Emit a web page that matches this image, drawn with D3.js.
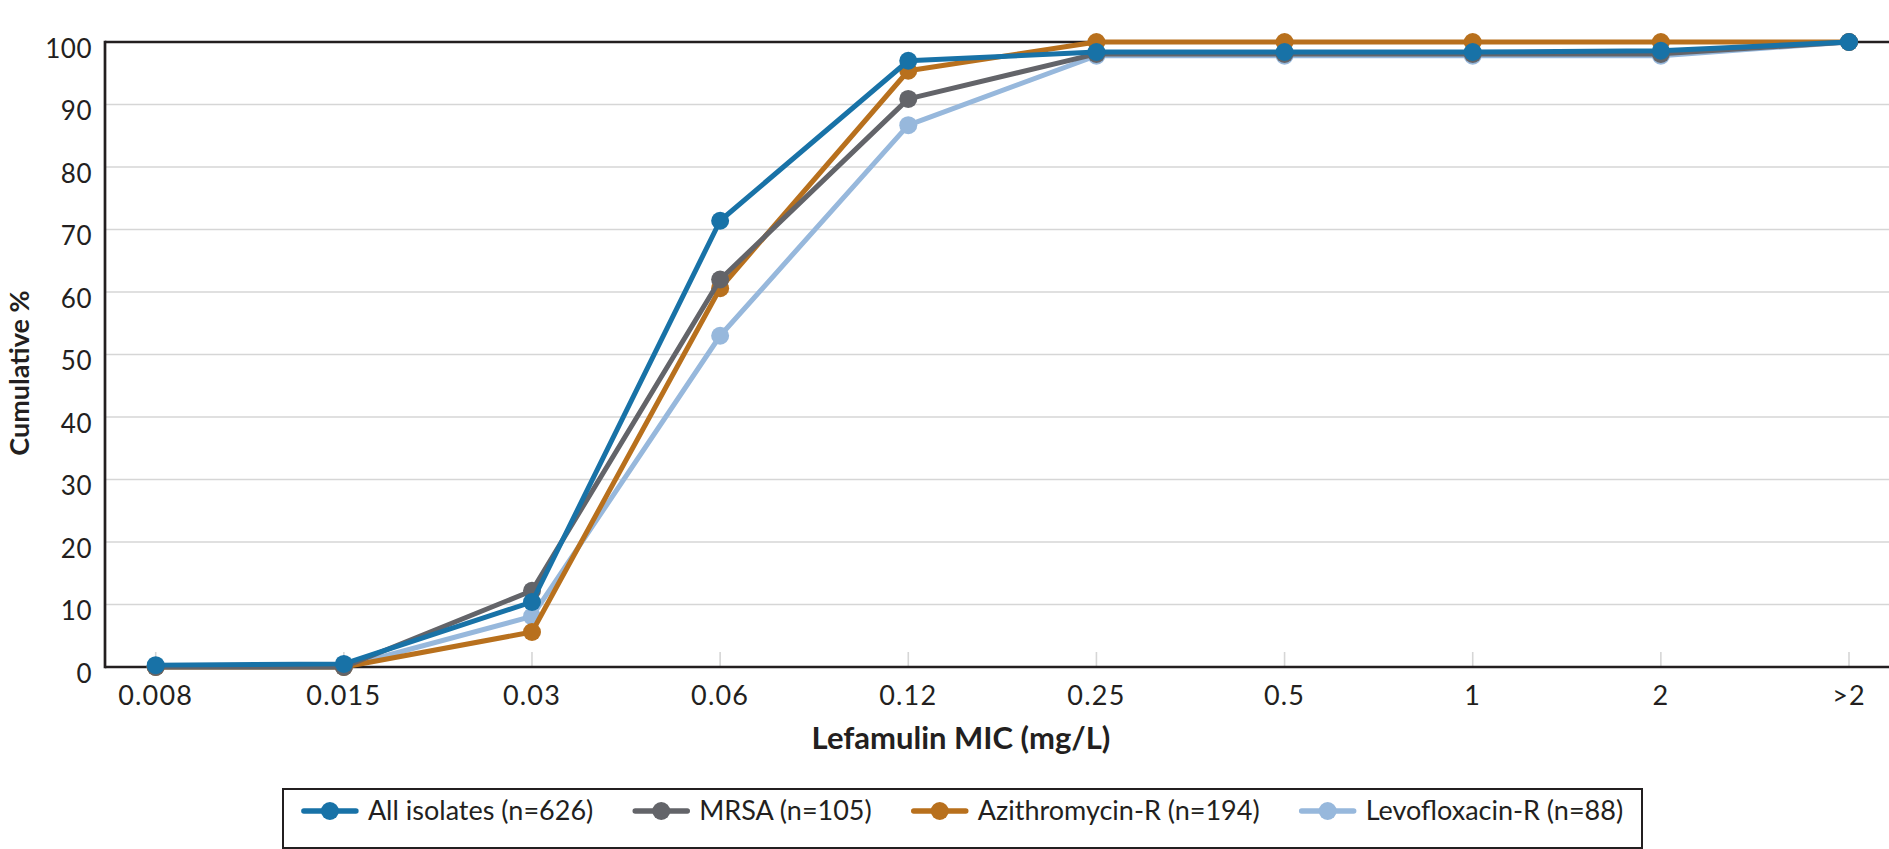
<!DOCTYPE html>
<html>
<head>
<meta charset="utf-8">
<script src="https://cdn.jsdelivr.net/npm/d3@7"></script>
<style>
  body { margin: 0; background: #fff; }
  svg { display: block; font-family: Lato, "Open Sans", sans-serif; }
</style>
</head>
<body>
<div id="chart"></div>
<script>
// Cumulative % of isolates inhibited at each lefamulin MIC
const micLabels = ['0.008', '0.015', '0.03', '0.06', '0.12', '0.25', '0.5', '1', '2', '>2'];
const yTicks = [0, 10, 20, 30, 40, 50, 60, 70, 80, 90, 100];

const allIsolates = [0.3, 0.5, 10.4, 71.4, 97.0, 98.4, 98.4, 98.4, 98.6, 100];
const mrsa = [0.0, 0.0, 12.2, 62.0, 90.9, 98.1, 98.1, 98.1, 98.1, 100];
const azithroR = [0.0, 0.0, 5.6, 60.6, 95.4, 100, 100, 100, 100, 100];
const levoR = [0.0, 0.0, 8.1, 53.0, 86.7, 97.8, 97.8, 97.8, 97.8, 100];

const seriesNames = ['All isolates (n=626)', 'MRSA (n=105)', 'Azithromycin-R (n=194)', 'Levofloxacin-R (n=88)'];
const seriesColors = ['#1872a7', '#636469', '#b8701d', '#97b8dc'];
const seriesValues = [allIsolates, mrsa, azithroR, levoR];

const W = 1889, H = 849;
const plot = { left: 105, top: 42, bottom: 667, right: W };
const textColor = '#231f20';

const svg = d3.select('#chart').append('svg')
    .attr('width', W)
    .attr('height', H);

const x = d3.scalePoint()
    .domain(micLabels)
    .range([155.7, 1849]);

const y = d3.scaleLinear()
    .domain([0, 100])
    .range([plot.bottom, plot.top]);

// Gridlines
svg.append('g')
    .selectAll('line')
    .data(yTicks.filter(d => d > 0 && d < 100))
    .enter()
    .append('line')
    .attr('x1', plot.left)
    .attr('x2', plot.right)
    .attr('y1', d => y(d))
    .attr('y2', d => y(d))
    .attr('stroke', '#d6d6d6')
    .attr('stroke-width', 1.6);

// Small tick marks above x axis
svg.append('g')
    .selectAll('line')
    .data(micLabels)
    .enter()
    .append('line')
    .attr('x1', d => x(d))
    .attr('x2', d => x(d))
    .attr('y1', plot.bottom - 15)
    .attr('y2', plot.bottom)
    .attr('stroke', '#d6d6d6')
    .attr('stroke-width', 1.6);

// Frame: top line, left axis, bottom axis
svg.append('line')
    .attr('x1', plot.left).attr('x2', plot.right)
    .attr('y1', y(100)).attr('y2', y(100))
    .attr('stroke', textColor).attr('stroke-width', 2.7);
svg.append('line')
    .attr('x1', plot.left).attr('x2', plot.left)
    .attr('y1', y(100) - 1.3).attr('y2', y(0) + 1.3)
    .attr('stroke', textColor).attr('stroke-width', 2.7);
svg.append('line')
    .attr('x1', plot.left).attr('x2', plot.right)
    .attr('y1', y(0)).attr('y2', y(0))
    .attr('stroke', textColor).attr('stroke-width', 2.7);

// Y tick labels
svg.append('g')
    .selectAll('text')
    .data(yTicks)
    .enter()
    .append('text')
    .attr('x', 92)
    .attr('y', d => y(d) + 15.5)
    .attr('text-anchor', 'end')
    .style('font-size', '26px')
    .style('letter-spacing', '0.5px')
    .attr('fill', textColor)
    .text(d => d);

// X tick labels
svg.append('g')
    .selectAll('text')
    .data(micLabels)
    .enter()
    .append('text')
    .attr('x', d => x(d))
    .attr('y', 705)
    .attr('text-anchor', 'middle')
    .style('font-size', '27px')
    .style('letter-spacing', '1.2px')
    .attr('fill', textColor)
    .text(d => d);

// Axis titles
svg.append('text')
    .attr('transform', 'rotate(-90)')
    .attr('x', -373)
    .attr('y', 29)
    .attr('text-anchor', 'middle')
    .style('font-size', '27px')
    .style('font-weight', 'bold')
    .attr('fill', textColor)
    .text('Cumulative %');

svg.append('text')
    .attr('x', 961)
    .attr('y', 749)
    .attr('text-anchor', 'middle')
    .style('font-size', '31px')
    .style('font-weight', 'bold')
    .attr('fill', textColor)
    .text('Lefamulin MIC (mg/L)');

// Series lines + markers; drawn bottom to top so All isolates sits on top
const line = d3.line()
    .x((d, i) => x(micLabels[i]))
    .y(d => y(d));

const drawOrder = [3, 2, 1, 0];
drawOrder.forEach(s => {
    const g = svg.append('g');
    g.append('path')
        .datum(seriesValues[s])
        .attr('d', line)
        .attr('fill', 'none')
        .attr('stroke', seriesColors[s])
        .attr('stroke-width', 5)
        .attr('stroke-linejoin', 'round');
    g.selectAll('circle')
        .data(seriesValues[s])
        .enter()
        .append('circle')
        .attr('cx', (d, i) => x(micLabels[i]))
        .attr('cy', d => y(d))
        .attr('r', 9)
        .attr('fill', seriesColors[s]);
});

// Legend
const legend = svg.append('g');
const legendBox = legend.append('rect')
    .attr('fill', 'none')
    .attr('stroke', textColor)
    .attr('stroke-width', 2);

const legendY = 811;
let cursor = 0;
const items = legend.append('g');
seriesNames.forEach((name, i) => {
    const item = items.append('g').attr('transform', `translate(${cursor},0)`);
    item.append('line')
        .attr('x1', 2).attr('x2', 54)
        .attr('y1', legendY).attr('y2', legendY)
        .attr('stroke', seriesColors[i])
        .attr('stroke-width', 5.5)
        .attr('stroke-linecap', 'round');
    item.append('circle')
        .attr('cx', 28).attr('cy', legendY)
        .attr('r', 9)
        .attr('fill', seriesColors[i]);
    const t = item.append('text')
        .attr('x', 66)
        .attr('y', legendY + 9)
        .style('font-size', '27px')
        .attr('fill', textColor)
        .text(name);
    cursor += 66 + t.node().getComputedTextLength() + 40;
});
const itemsWidth = cursor - 40;
const boxLeft = 283, boxRight = 1642;
const startX = (boxLeft + boxRight) / 2 - itemsWidth / 2;
items.attr('transform', `translate(${startX},0)`);
legendBox
    .attr('x', boxLeft)
    .attr('y', 789)
    .attr('width', boxRight - boxLeft)
    .attr('height', 59);
</script>
</body>
</html>
